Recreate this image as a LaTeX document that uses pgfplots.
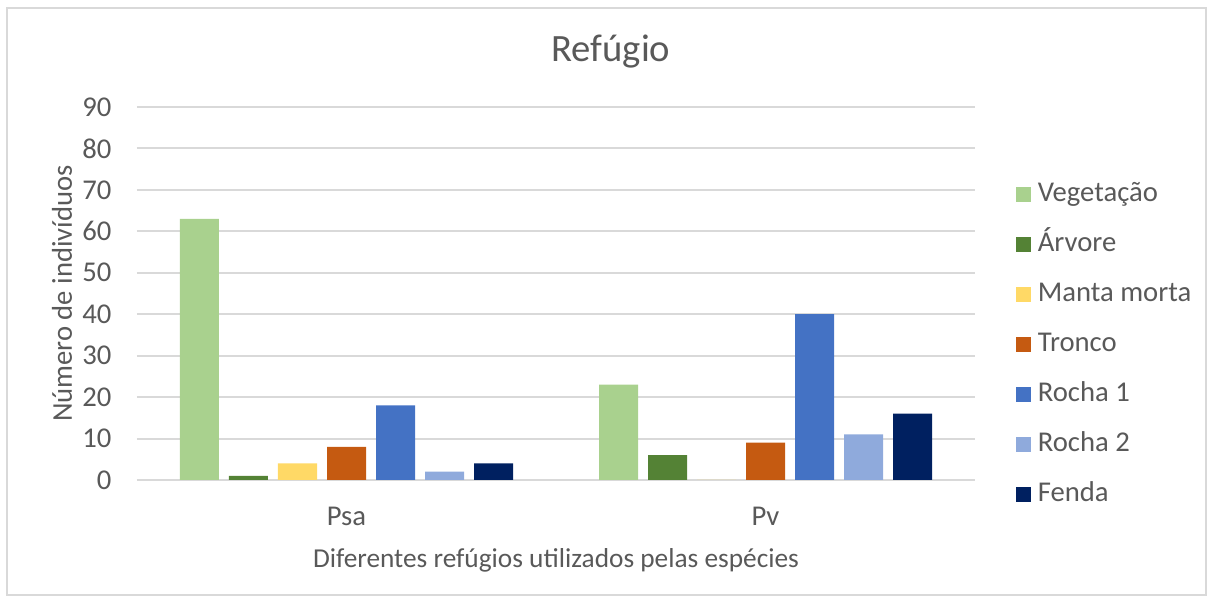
\documentclass[border=0pt]{standalone}
\usepackage{pgfplots}
\pgfplotsset{compat=1.18}
\usepackage{fontspec}
\setmainfont{Carlito}
\definecolor{txt}{HTML}{595959}
\definecolor{gridc}{HTML}{D9D9D9}
\definecolor{cveg}{HTML}{A9D18E}
\definecolor{carv}{HTML}{548235}
\definecolor{cman}{HTML}{FFD966}
\definecolor{ctro}{HTML}{C55A11}
\definecolor{croa}{HTML}{4472C4}
\definecolor{crob}{HTML}{8FAADC}
\definecolor{cfen}{HTML}{002060}
\begin{document}
\begin{tikzpicture}
% 1 px of the reference = 0.75pt; axis origin at px (137,480)
\useasboundingbox (-102.75pt,-91.5pt) rectangle (807pt,360pt);
\draw[gridc, line width=1.5pt] (-97.5pt,-86.25pt) rectangle (801.75pt,354pt);
\begin{axis}[
    at={(0,0)}, anchor=south west,
    scale only axis,
    width=628.5pt, height=279.75pt,
    ybar=7.5pt, bar width=29.25pt,
    xmin=-0.5, xmax=1.5,
    xtick={0,1}, xticklabels={Psa,Pv},
    ymin=0, ymax=90, ytick={0,10,...,90},
    ymajorgrids=true,
    grid style={gridc, line width=1.5pt},
    axis line style={draw=none},
    major tick length=0pt,
    /pgf/number format/assume math mode=true,
    font=\fontsize{21.5}{25}\selectfont,
    ticklabel style={txt},
    yticklabel style={anchor=east, inner sep=0pt, xshift=-19pt},
    xticklabel style={anchor=north, inner sep=0pt, yshift=-20pt},
    xlabel={Diferentes refúgios utilizados pelas espécies},
    xlabel style={txt, font=\fontsize{20.5}{24}\selectfont, at={(axis description cs:0.5,-0.2145)}, anchor=center},
    ylabel={Número de indivíduos},
    ylabel style={txt, at={(axis description cs:-0.0895,0.5)}, anchor=center},
    title={Refúgio},
    title style={txt, font=\fontsize{29}{34}\selectfont, at={(axis description cs:0.5656,1.126)}, anchor=center},
    legend cell align=left,
    legend style={draw=none, fill=none, at={(axis description cs:1.044,0.805)}, anchor=north west,
        font=\fontsize{21.5}{25}\selectfont, text=txt, row sep=19.5pt,
        nodes={text height=14pt, text depth=4pt, inner sep=0pt, inner xsep=5pt}},
    legend image code/.code={\fill[#1] (0pt,-5.6pt) rectangle (11.25pt,5.6pt);},
]
\addplot[fill=cveg, draw=none] coordinates {(0,63) (1,23)};
\addplot[fill=carv, draw=none] coordinates {(0,1) (1,6)};
\addplot[fill=cman, draw=none] coordinates {(0,4) (1,0)};
\addplot[fill=ctro, draw=none] coordinates {(0,8) (1,9)};
\addplot[fill=croa, draw=none] coordinates {(0,18) (1,40)};
\addplot[fill=crob, draw=none] coordinates {(0,2) (1,11)};
\addplot[fill=cfen, draw=none] coordinates {(0,4) (1,16)};
\legend{Vegetação,Árvore,Manta morta,Tronco,Rocha 1,Rocha 2,Fenda}
\end{axis}
\end{tikzpicture}
\end{document}
